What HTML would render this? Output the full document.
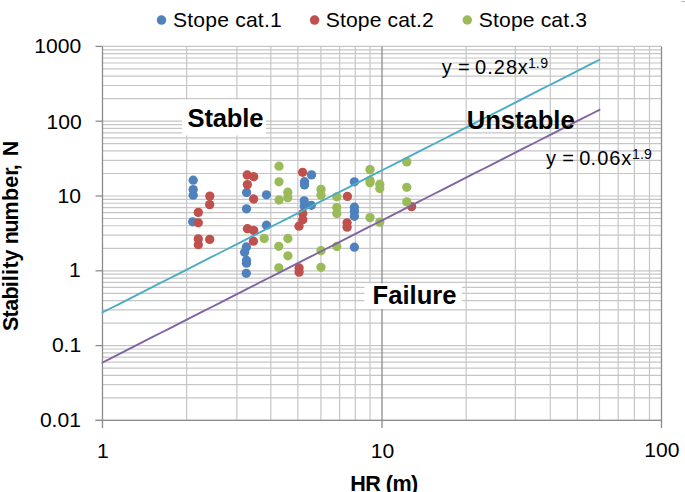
<!DOCTYPE html>
<html><head><meta charset="utf-8"><style>
html,body{margin:0;padding:0;background:#fff;}
svg{display:block;}
</style></head><body>
<svg width="685" height="492" viewBox="0 0 685 492">
<rect width="685" height="492" fill="#fff"/>
<line x1="102.50" y1="420.40" x2="661.50" y2="420.40" stroke="#c6c6c6" stroke-width="1.2"/>
<line x1="102.50" y1="397.88" x2="661.50" y2="397.88" stroke="#c6c6c6" stroke-width="1.2"/>
<line x1="102.50" y1="384.71" x2="661.50" y2="384.71" stroke="#c6c6c6" stroke-width="1.2"/>
<line x1="102.50" y1="375.37" x2="661.50" y2="375.37" stroke="#c6c6c6" stroke-width="1.2"/>
<line x1="102.50" y1="368.12" x2="661.50" y2="368.12" stroke="#c6c6c6" stroke-width="1.2"/>
<line x1="102.50" y1="362.19" x2="661.50" y2="362.19" stroke="#c6c6c6" stroke-width="1.2"/>
<line x1="102.50" y1="357.19" x2="661.50" y2="357.19" stroke="#c6c6c6" stroke-width="1.2"/>
<line x1="102.50" y1="352.85" x2="661.50" y2="352.85" stroke="#c6c6c6" stroke-width="1.2"/>
<line x1="102.50" y1="349.02" x2="661.50" y2="349.02" stroke="#c6c6c6" stroke-width="1.2"/>
<line x1="102.50" y1="345.60" x2="661.50" y2="345.60" stroke="#c6c6c6" stroke-width="1.2"/>
<line x1="102.50" y1="323.08" x2="661.50" y2="323.08" stroke="#c6c6c6" stroke-width="1.2"/>
<line x1="102.50" y1="309.91" x2="661.50" y2="309.91" stroke="#c6c6c6" stroke-width="1.2"/>
<line x1="102.50" y1="300.57" x2="661.50" y2="300.57" stroke="#c6c6c6" stroke-width="1.2"/>
<line x1="102.50" y1="293.32" x2="661.50" y2="293.32" stroke="#c6c6c6" stroke-width="1.2"/>
<line x1="102.50" y1="287.39" x2="661.50" y2="287.39" stroke="#c6c6c6" stroke-width="1.2"/>
<line x1="102.50" y1="282.39" x2="661.50" y2="282.39" stroke="#c6c6c6" stroke-width="1.2"/>
<line x1="102.50" y1="278.05" x2="661.50" y2="278.05" stroke="#c6c6c6" stroke-width="1.2"/>
<line x1="102.50" y1="274.22" x2="661.50" y2="274.22" stroke="#c6c6c6" stroke-width="1.2"/>
<line x1="102.50" y1="270.80" x2="661.50" y2="270.80" stroke="#c6c6c6" stroke-width="1.2"/>
<line x1="102.50" y1="248.28" x2="661.50" y2="248.28" stroke="#c6c6c6" stroke-width="1.2"/>
<line x1="102.50" y1="235.11" x2="661.50" y2="235.11" stroke="#c6c6c6" stroke-width="1.2"/>
<line x1="102.50" y1="225.77" x2="661.50" y2="225.77" stroke="#c6c6c6" stroke-width="1.2"/>
<line x1="102.50" y1="218.52" x2="661.50" y2="218.52" stroke="#c6c6c6" stroke-width="1.2"/>
<line x1="102.50" y1="212.59" x2="661.50" y2="212.59" stroke="#c6c6c6" stroke-width="1.2"/>
<line x1="102.50" y1="207.59" x2="661.50" y2="207.59" stroke="#c6c6c6" stroke-width="1.2"/>
<line x1="102.50" y1="203.25" x2="661.50" y2="203.25" stroke="#c6c6c6" stroke-width="1.2"/>
<line x1="102.50" y1="199.42" x2="661.50" y2="199.42" stroke="#c6c6c6" stroke-width="1.2"/>
<line x1="102.50" y1="196.00" x2="661.50" y2="196.00" stroke="#c6c6c6" stroke-width="1.2"/>
<line x1="102.50" y1="173.48" x2="661.50" y2="173.48" stroke="#c6c6c6" stroke-width="1.2"/>
<line x1="102.50" y1="160.31" x2="661.50" y2="160.31" stroke="#c6c6c6" stroke-width="1.2"/>
<line x1="102.50" y1="150.97" x2="661.50" y2="150.97" stroke="#c6c6c6" stroke-width="1.2"/>
<line x1="102.50" y1="143.72" x2="661.50" y2="143.72" stroke="#c6c6c6" stroke-width="1.2"/>
<line x1="102.50" y1="137.79" x2="661.50" y2="137.79" stroke="#c6c6c6" stroke-width="1.2"/>
<line x1="102.50" y1="132.79" x2="661.50" y2="132.79" stroke="#c6c6c6" stroke-width="1.2"/>
<line x1="102.50" y1="128.45" x2="661.50" y2="128.45" stroke="#c6c6c6" stroke-width="1.2"/>
<line x1="102.50" y1="124.62" x2="661.50" y2="124.62" stroke="#c6c6c6" stroke-width="1.2"/>
<line x1="102.50" y1="121.20" x2="661.50" y2="121.20" stroke="#c6c6c6" stroke-width="1.2"/>
<line x1="102.50" y1="98.68" x2="661.50" y2="98.68" stroke="#c6c6c6" stroke-width="1.2"/>
<line x1="102.50" y1="85.51" x2="661.50" y2="85.51" stroke="#c6c6c6" stroke-width="1.2"/>
<line x1="102.50" y1="76.17" x2="661.50" y2="76.17" stroke="#c6c6c6" stroke-width="1.2"/>
<line x1="102.50" y1="68.92" x2="661.50" y2="68.92" stroke="#c6c6c6" stroke-width="1.2"/>
<line x1="102.50" y1="62.99" x2="661.50" y2="62.99" stroke="#c6c6c6" stroke-width="1.2"/>
<line x1="102.50" y1="57.99" x2="661.50" y2="57.99" stroke="#c6c6c6" stroke-width="1.2"/>
<line x1="102.50" y1="53.65" x2="661.50" y2="53.65" stroke="#c6c6c6" stroke-width="1.2"/>
<line x1="102.50" y1="49.82" x2="661.50" y2="49.82" stroke="#c6c6c6" stroke-width="1.2"/>
<line x1="102.50" y1="46.40" x2="661.50" y2="46.40" stroke="#c6c6c6" stroke-width="1.2"/>
<line x1="186.64" y1="46.40" x2="186.64" y2="420.40" stroke="#c6c6c6" stroke-width="1.2"/>
<line x1="236.90" y1="46.40" x2="236.90" y2="420.40" stroke="#c6c6c6" stroke-width="1.2"/>
<line x1="270.78" y1="46.40" x2="270.78" y2="420.40" stroke="#c6c6c6" stroke-width="1.2"/>
<line x1="297.86" y1="46.40" x2="297.86" y2="420.40" stroke="#c6c6c6" stroke-width="1.2"/>
<line x1="320.90" y1="46.40" x2="320.90" y2="420.40" stroke="#c6c6c6" stroke-width="1.2"/>
<line x1="339.60" y1="46.40" x2="339.60" y2="420.40" stroke="#c6c6c6" stroke-width="1.2"/>
<line x1="355.30" y1="46.40" x2="355.30" y2="420.40" stroke="#c6c6c6" stroke-width="1.2"/>
<line x1="370.00" y1="46.40" x2="370.00" y2="420.40" stroke="#c6c6c6" stroke-width="1.2"/>
<line x1="466.14" y1="46.40" x2="466.14" y2="420.40" stroke="#c6c6c6" stroke-width="1.2"/>
<line x1="515.36" y1="46.40" x2="515.36" y2="420.40" stroke="#c6c6c6" stroke-width="1.2"/>
<line x1="550.28" y1="46.40" x2="550.28" y2="420.40" stroke="#c6c6c6" stroke-width="1.2"/>
<line x1="577.36" y1="46.40" x2="577.36" y2="420.40" stroke="#c6c6c6" stroke-width="1.2"/>
<line x1="599.49" y1="46.40" x2="599.49" y2="420.40" stroke="#c6c6c6" stroke-width="1.2"/>
<line x1="618.20" y1="46.40" x2="618.20" y2="420.40" stroke="#c6c6c6" stroke-width="1.2"/>
<line x1="634.41" y1="46.40" x2="634.41" y2="420.40" stroke="#c6c6c6" stroke-width="1.2"/>
<line x1="649.50" y1="46.40" x2="649.50" y2="420.40" stroke="#c6c6c6" stroke-width="1.2"/>
<line x1="382.00" y1="46.40" x2="382.00" y2="427.90" stroke="#8c8c8c" stroke-width="1.3"/>
<line x1="661.50" y1="46.40" x2="661.50" y2="427.90" stroke="#8c8c8c" stroke-width="1.3"/>
<line x1="102.50" y1="46.40" x2="102.50" y2="427.90" stroke="#8c8c8c" stroke-width="1.3"/>
<line x1="95.50" y1="420.40" x2="661.50" y2="420.40" stroke="#8c8c8c" stroke-width="1.3"/>
<line x1="95.50" y1="420.40" x2="102.50" y2="420.40" stroke="#8c8c8c" stroke-width="1.3"/>
<line x1="95.50" y1="345.60" x2="102.50" y2="345.60" stroke="#8c8c8c" stroke-width="1.3"/>
<line x1="95.50" y1="270.80" x2="102.50" y2="270.80" stroke="#8c8c8c" stroke-width="1.3"/>
<line x1="95.50" y1="196.00" x2="102.50" y2="196.00" stroke="#8c8c8c" stroke-width="1.3"/>
<line x1="95.50" y1="121.20" x2="102.50" y2="121.20" stroke="#8c8c8c" stroke-width="1.3"/>
<line x1="95.50" y1="46.40" x2="102.50" y2="46.40" stroke="#8c8c8c" stroke-width="1.3"/>
<rect x="182" y="99.5" width="84" height="36" fill="#fff"/>
<rect x="364.5" y="283.5" width="97.5" height="25.5" fill="#fff"/>
<circle cx="193.2" cy="180.2" r="4.65" fill="#4f81bd"/>
<circle cx="193.2" cy="189.6" r="4.65" fill="#4f81bd"/>
<circle cx="193.2" cy="195.2" r="4.65" fill="#4f81bd"/>
<circle cx="192.7" cy="221.8" r="4.65" fill="#4f81bd"/>
<circle cx="246.6" cy="192.5" r="4.65" fill="#4f81bd"/>
<circle cx="266.5" cy="194.8" r="4.65" fill="#4f81bd"/>
<circle cx="246.5" cy="208.8" r="4.65" fill="#4f81bd"/>
<circle cx="266.5" cy="225.2" r="4.65" fill="#4f81bd"/>
<circle cx="246.4" cy="247.0" r="4.65" fill="#4f81bd"/>
<circle cx="244.6" cy="252.3" r="4.65" fill="#4f81bd"/>
<circle cx="246.5" cy="260.5" r="4.65" fill="#4f81bd"/>
<circle cx="246.5" cy="263.2" r="4.65" fill="#4f81bd"/>
<circle cx="246.3" cy="273.3" r="4.65" fill="#4f81bd"/>
<circle cx="311.5" cy="174.9" r="4.65" fill="#4f81bd"/>
<circle cx="304.5" cy="181.7" r="4.65" fill="#4f81bd"/>
<circle cx="304.5" cy="184.9" r="4.65" fill="#4f81bd"/>
<circle cx="304.2" cy="200.8" r="4.65" fill="#4f81bd"/>
<circle cx="304.2" cy="206" r="4.65" fill="#4f81bd"/>
<circle cx="311.3" cy="205.3" r="4.65" fill="#4f81bd"/>
<circle cx="354.4" cy="181.8" r="4.65" fill="#4f81bd"/>
<circle cx="354.4" cy="207.2" r="4.65" fill="#4f81bd"/>
<circle cx="354.4" cy="211.4" r="4.65" fill="#4f81bd"/>
<circle cx="354.4" cy="216.3" r="4.65" fill="#4f81bd"/>
<circle cx="354.4" cy="247.2" r="4.65" fill="#4f81bd"/>
<circle cx="209.8" cy="196.1" r="4.65" fill="#c0504d"/>
<circle cx="209.7" cy="204.6" r="4.65" fill="#c0504d"/>
<circle cx="198.3" cy="212.4" r="4.65" fill="#c0504d"/>
<circle cx="198.3" cy="222.8" r="4.65" fill="#c0504d"/>
<circle cx="198.3" cy="238.9" r="4.65" fill="#c0504d"/>
<circle cx="209.7" cy="239.4" r="4.65" fill="#c0504d"/>
<circle cx="198.3" cy="244.7" r="4.65" fill="#c0504d"/>
<circle cx="247.2" cy="175.0" r="4.65" fill="#c0504d"/>
<circle cx="253.7" cy="176.7" r="4.65" fill="#c0504d"/>
<circle cx="247.4" cy="184.6" r="4.65" fill="#c0504d"/>
<circle cx="253.6" cy="199.0" r="4.65" fill="#c0504d"/>
<circle cx="247.4" cy="228.7" r="4.65" fill="#c0504d"/>
<circle cx="253.7" cy="230.4" r="4.65" fill="#c0504d"/>
<circle cx="253.4" cy="241.2" r="4.65" fill="#c0504d"/>
<circle cx="302.6" cy="172.3" r="4.65" fill="#c0504d"/>
<circle cx="302.8" cy="213.5" r="4.65" fill="#c0504d"/>
<circle cx="302.8" cy="219.8" r="4.65" fill="#c0504d"/>
<circle cx="299" cy="226.2" r="4.65" fill="#c0504d"/>
<circle cx="299.1" cy="268" r="4.65" fill="#c0504d"/>
<circle cx="299.1" cy="272.1" r="4.65" fill="#c0504d"/>
<circle cx="347.4" cy="196.4" r="4.65" fill="#c0504d"/>
<circle cx="347.1" cy="222.8" r="4.65" fill="#c0504d"/>
<circle cx="347.1" cy="227.2" r="4.65" fill="#c0504d"/>
<circle cx="411.6" cy="206.6" r="4.65" fill="#c0504d"/>
<circle cx="279.0" cy="166.2" r="4.65" fill="#9bbb59"/>
<circle cx="279.0" cy="181.8" r="4.65" fill="#9bbb59"/>
<circle cx="287.8" cy="192.2" r="4.65" fill="#9bbb59"/>
<circle cx="287.8" cy="197.6" r="4.65" fill="#9bbb59"/>
<circle cx="279.0" cy="200.0" r="4.65" fill="#9bbb59"/>
<circle cx="264.2" cy="238.5" r="4.65" fill="#9bbb59"/>
<circle cx="287.9" cy="238.5" r="4.65" fill="#9bbb59"/>
<circle cx="278.8" cy="246.3" r="4.65" fill="#9bbb59"/>
<circle cx="287.9" cy="255.8" r="4.65" fill="#9bbb59"/>
<circle cx="278.8" cy="267.8" r="4.65" fill="#9bbb59"/>
<circle cx="321" cy="189.4" r="4.65" fill="#9bbb59"/>
<circle cx="321" cy="195.2" r="4.65" fill="#9bbb59"/>
<circle cx="336.8" cy="196.8" r="4.65" fill="#9bbb59"/>
<circle cx="336.8" cy="207.6" r="4.65" fill="#9bbb59"/>
<circle cx="336.8" cy="213.4" r="4.65" fill="#9bbb59"/>
<circle cx="321" cy="250.7" r="4.65" fill="#9bbb59"/>
<circle cx="321" cy="267.3" r="4.65" fill="#9bbb59"/>
<circle cx="336.8" cy="246.5" r="4.65" fill="#9bbb59"/>
<circle cx="370.0" cy="169.6" r="4.65" fill="#9bbb59"/>
<circle cx="370" cy="180.5" r="4.65" fill="#9bbb59"/>
<circle cx="370" cy="182.8" r="4.65" fill="#9bbb59"/>
<circle cx="379.8" cy="184.2" r="4.65" fill="#9bbb59"/>
<circle cx="379.8" cy="188.5" r="4.65" fill="#9bbb59"/>
<circle cx="406.8" cy="161.9" r="4.65" fill="#9bbb59"/>
<circle cx="406.8" cy="187.3" r="4.65" fill="#9bbb59"/>
<circle cx="406.8" cy="201.9" r="4.65" fill="#9bbb59"/>
<circle cx="370" cy="217.6" r="4.65" fill="#9bbb59"/>
<circle cx="379.8" cy="222.1" r="4.65" fill="#9bbb59"/>
<polyline points="102.50,312.45 110.78,308.24 119.07,304.03 127.35,299.82 135.63,295.61 143.92,291.39 152.20,287.18 160.48,282.97 168.77,278.76 177.05,274.55 185.33,270.33 193.62,266.12 201.90,261.91 210.18,257.70 218.47,253.49 226.75,249.27 235.03,245.06 243.31,240.85 251.60,236.64 259.88,232.43 268.16,228.22 276.45,224.00 284.73,219.79 293.01,215.58 301.30,211.37 309.58,207.16 317.86,202.94 326.15,198.73 334.43,194.52 342.71,190.31 351.00,186.10 359.28,181.89 367.56,177.67 375.85,173.46 384.13,169.25 392.41,165.04 400.70,160.83 408.98,156.61 417.26,152.40 425.55,148.19 433.83,143.98 442.11,139.77 450.40,135.55 458.68,131.34 466.96,127.13 475.24,122.92 483.53,118.71 491.81,114.50 500.09,110.28 508.38,106.07 516.66,101.86 524.94,97.65 533.23,93.44 541.51,89.22 549.79,85.01 558.08,80.80 566.36,76.59 574.64,72.38 582.93,68.17 591.21,63.95 599.49,59.74" fill="none" stroke="#4bacc6" stroke-width="1.9" stroke-linecap="round" stroke-linejoin="round"/>
<polyline points="102.50,362.49 110.78,358.28 119.07,354.07 127.35,349.86 135.63,345.65 143.92,341.44 152.20,337.22 160.48,333.01 168.77,328.80 177.05,324.59 185.33,320.38 193.62,316.16 201.90,311.95 210.18,307.74 218.47,303.53 226.75,299.32 235.03,295.10 243.31,290.89 251.60,286.68 259.88,282.47 268.16,278.26 276.45,274.05 284.73,269.83 293.01,265.62 301.30,261.41 309.58,257.20 317.86,252.99 326.15,248.77 334.43,244.56 342.71,240.35 351.00,236.14 359.28,231.93 367.56,227.72 375.85,223.50 384.13,219.29 392.41,215.08 400.70,210.87 408.98,206.66 417.26,202.44 425.55,198.23 433.83,194.02 442.11,189.81 450.40,185.60 458.68,181.38 466.96,177.17 475.24,172.96 483.53,168.75 491.81,164.54 500.09,160.33 508.38,156.11 516.66,151.90 524.94,147.69 533.23,143.48 541.51,139.27 549.79,135.05 558.08,130.84 566.36,126.63 574.64,122.42 582.93,118.21 591.21,114.00 599.49,109.78" fill="none" stroke="#8064a2" stroke-width="1.9" stroke-linecap="round" stroke-linejoin="round"/>
<g font-family='"Liberation Sans", sans-serif' fill="#000">
<text x="173.0" y="26.6" font-size="21.1" textLength="108.72" lengthAdjust="spacing">Stope cat.1</text>
<text x="325.7" y="26.6" font-size="21.1" textLength="108.12" lengthAdjust="spacing">Stope cat.2</text>
<text x="478.8" y="26.6" font-size="21.1" textLength="108.12" lengthAdjust="spacing">Stope cat.3</text>
<text x="187.5" y="127.4" font-size="25.6" font-weight="bold" textLength="76.01" lengthAdjust="spacing">Stable</text>
<text x="466.8" y="129.0" font-size="25.6" font-weight="bold" textLength="107.89" lengthAdjust="spacing">Unstable</text>
<text x="372.6" y="304.1" font-size="25.6" font-weight="bold" textLength="83.92" lengthAdjust="spacing">Failure</text>
<text x="350.3" y="491.3" font-size="21.6" font-weight="bold" textLength="67.98" lengthAdjust="spacing">HR (m)</text>
<text x="34.3" y="52.9" font-size="21.1">1000</text>
<text x="46.5" y="129.0" font-size="21.1">100</text>
<text x="57.5" y="203.4" font-size="21.1">10</text>
<text x="69.1" y="277.3" font-size="21.1">1</text>
<text x="51.9" y="352.2" font-size="21.1">0.1</text>
<text x="39.9" y="427.0" font-size="21.1">0.01</text>
<text x="96.9" y="457.6" font-size="21.1">1</text>
<text x="370.8" y="457.6" font-size="21.1">10</text>
<text x="644.35" y="457.4" font-size="21.1">100</text>
<text x="441.75 451.75 458.07 468.07 475.09 487.19 493.64 506.09 517.65" y="74.0" font-size="20">y = 0.28x</text>
<text x="527.88 535.76 540.23" y="67.7" font-size="14.1">1.9</text>
<text x="546.00 556.00 562.33 572.33 579.19 590.44 597.14 609.23 621.25" y="165.4" font-size="20">y = 0.06x</text>
<text x="632.02 640.06 643.92" y="159.0" font-size="14.1">1.9</text>
<text x="-0.71 12.84 19.77 30.94 43.15 49.10 55.50 61.99 68.89 76.89 86.24 97.94 109.94 129.49 142.69 154.71 160.20 168.20 174.09" y="0" transform="translate(18,330.4) rotate(-90)" font-size="21.5" font-weight="bold">Stability number, N</text>
</g>
<circle cx="161.5" cy="20.05" r="4.75" fill="#4f81bd"/>
<circle cx="314.6" cy="20.05" r="4.75" fill="#c0504d"/>
<circle cx="467.3" cy="20.0" r="4.75" fill="#9bbb59"/>
<line x1="681" y1="1.5" x2="685" y2="1.5" stroke="#bbb" stroke-width="1"/>

</svg>
</body></html>
